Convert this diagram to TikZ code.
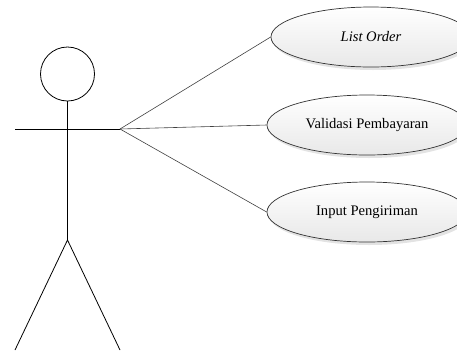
\documentclass[tikz,border=0pt]{standalone}
\usepackage{fontspec}
\setmainfont{Liberation Serif}
\usetikzlibrary{shapes.geometric,shadows}
\begin{document}
\begin{tikzpicture}[x=1pt,y=-1pt,
  limb/.style={draw=black, line width=0.8pt},
  link/.style={draw=black!75, line width=0.6pt},
  usecase/.style={ellipse, draw=black!80, line width=0.7pt,
    minimum width=200pt, minimum height=60pt, inner sep=0pt,
    top color=white, bottom color=black!9,
    font=\fontsize{14.6}{16}\selectfont,
    drop shadow={shadow xshift=2pt, shadow yshift=-3pt, opacity=0.2, fill=black!55}}]
  \useasboundingbox (0,0) rectangle (457,354);
  \begin{scope}
    \clip (0,0) rectangle (457,354);
    % actor
    \node[circle, draw=black, line width=0.8pt, minimum size=54pt, inner sep=0pt] (head) at (67.5,74) {};
    \coordinate (hip) at (67.5,240);
    \coordinate (lhand) at (15,129);
    \coordinate (rhand) at (120,129);
    \coordinate (lfoot) at (15,350);
    \coordinate (rfoot) at (120,350);
    \draw[limb] (head.south) -- (hip);
    \draw[limb] (lhand) -- (rhand);
    \draw[limb] (lfoot) -- (hip) -- (rfoot);
    % use cases
    \node[usecase] (uc1) at (371,37) {\itshape List Order};
    \node[usecase] (uc2) at (367,125) {Validasi Pembayaran};
    \node[usecase] (uc3) at (367,212) {Input Pengiriman};
    % associations
    \draw[link] (rhand) -- (uc1.west);
    \draw[link] (rhand) -- (uc2.west);
    \draw[link] (rhand) -- (uc3.west);
  \end{scope}
\end{tikzpicture}
\end{document}
